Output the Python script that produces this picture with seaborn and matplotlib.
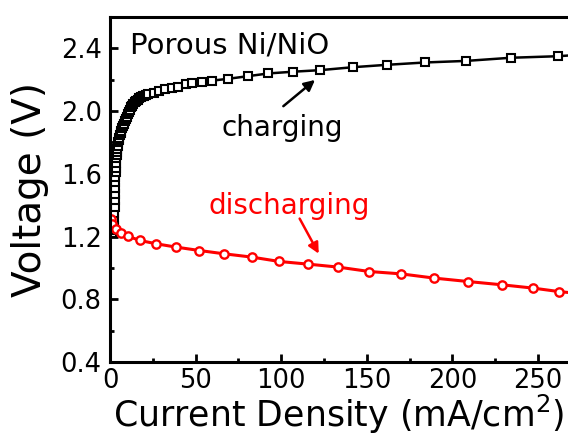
import numpy as np
import pandas as pd
import seaborn as sns
import matplotlib.pyplot as plt

# charging curve (mA/cm2, V)
charge_j = [1.0, 1.6, 2.1, 2.4, 2.5, 2.6, 2.7, 2.8, 2.9, 3.0, 3.1, 3.2, 3.3, 3.4,
            3.5, 3.7, 3.9, 4.1, 4.3, 4.6, 4.9, 5.2, 5.5, 5.9, 6.3, 6.7, 7.1, 7.6,
            8.1, 8.6, 9.1, 9.7, 10.3, 10.9, 11.5, 12.2, 12.9, 13.6, 14.4, 15.2,
            16.1, 17.0, 18.0, 19.0, 20.1, 21.2, 22.4, 25.9, 28.8, 32.1, 36.0,
            39.5, 44.4, 48.0, 53.5, 59.4, 69.1, 80.8, 92.5, 106.7, 122.7, 142.1,
            161.6, 184.0, 208.0, 234.0, 261.7, 290.0]
charge_v = [1.22, 1.24, 1.255, 1.27, 1.31, 1.35, 1.39, 1.43, 1.47, 1.51, 1.55, 1.58,
            1.61, 1.64, 1.67, 1.70, 1.72, 1.74, 1.76, 1.78, 1.80, 1.815, 1.83,
            1.845, 1.86, 1.875, 1.89, 1.905, 1.92, 1.935, 1.95, 1.965, 1.98, 1.995,
            2.01, 2.025, 2.035, 2.045, 2.055, 2.065, 2.073, 2.081, 2.088, 2.094,
            2.099, 2.103, 2.106, 2.117, 2.127, 2.138, 2.149, 2.155, 2.170, 2.176,
            2.185, 2.194, 2.206, 2.223, 2.240, 2.251, 2.261, 2.280, 2.295, 2.31,
            2.32, 2.34, 2.35, 2.37]

# discharging curve
discharge_j = [0.4, 1.3, 3.3, 6.4, 10.7, 17.5, 26.9, 38.4, 52.2, 66.6, 82.8, 98.9,
               115.8, 133.4, 151.5, 170.0, 189.4, 209.3, 229.2, 247.3, 262.3, 285.0]
discharge_v = [1.31, 1.28, 1.245, 1.222, 1.201, 1.175, 1.154, 1.133, 1.111, 1.090,
               1.069, 1.041, 1.024, 1.005, 0.977, 0.962, 0.935, 0.913, 0.892, 0.871,
               0.849, 0.825]

sns.set_style("ticks")
plt.rcParams['font.family'] = ['DejaVu Sans']
plt.rcParams.update({'text.color': 'black', 'axes.labelcolor': 'black',
                     'xtick.color': 'black', 'ytick.color': 'black',
                     'axes.edgecolor': 'black'})

fig = plt.figure(figsize=(5.68, 4.41), dpi=100)
ax = fig.add_axes([110 / 568, 79 / 441, 513.6 / 568, 345 / 441])

charge = pd.DataFrame({'j': charge_j, 'v': charge_v})
discharge = pd.DataFrame({'j': discharge_j, 'v': discharge_v})

sns.lineplot(data=charge, x='j', y='v', ax=ax, color='black', lw=1.8,
             marker='s', markersize=5.5, markerfacecolor='white',
             markeredgecolor='black', markeredgewidth=1.5, sort=False, estimator=None)
sns.lineplot(data=discharge, x='j', y='v', ax=ax, color='red', lw=2.2,
             marker='o', markersize=6, markerfacecolor='white',
             markeredgecolor='red', markeredgewidth=1.7, sort=False, estimator=None)

ax.set_xlim(0, 300)
ax.set_ylim(0.4, 2.6)
ax.set_xticks(np.arange(0, 251, 50))
ax.set_xticks(np.arange(25, 301, 50), minor=True)
ax.set_yticks(np.arange(0.4, 2.41, 0.4))
ax.set_yticks(np.arange(0.6, 2.61, 0.4), minor=True)
ax.set_yticklabels(['0.4', '0.8', '1.2', '1.6', '2.0', '2.4'])
ax.tick_params(which='both', direction='in', width=2, labelsize=18.5)
ax.tick_params(which='major', length=6)
ax.tick_params(which='minor', length=3)
ax.tick_params(axis='x', which='major', pad=4)
ax.tick_params(axis='y', which='major', pad=6)
for s in ax.spines.values():
    s.set_linewidth(2.2)

ax.set_xlabel('Current Density (mA/cm$^2$)', fontsize=25)
ax.set_ylabel('Voltage (V)', fontsize=28)
ax.xaxis.set_label_coords(0.445, -0.09)
ax.yaxis.set_label_coords(-0.118, 0.5)

ax.text(11.5, 2.42, 'Porous Ni/NiO', fontsize=21, va='center', ha='left')
ax.text(100.5, 1.89, 'charging', fontsize=20, va='center', ha='center')
ax.text(104.6, 1.395, 'discharging', fontsize=20, va='center', ha='center', color='red')

ax.annotate('', xy=(121, 2.21), xytext=(100, 2.02),
            arrowprops=dict(arrowstyle='-|>', color='black', lw=1.8, mutation_scale=16))
ax.annotate('', xy=(122.7, 1.075), xytext=(110, 1.33),
            arrowprops=dict(arrowstyle='-|>', color='red', lw=1.8, mutation_scale=16))

fig.savefig('out.png', dpi=100)
